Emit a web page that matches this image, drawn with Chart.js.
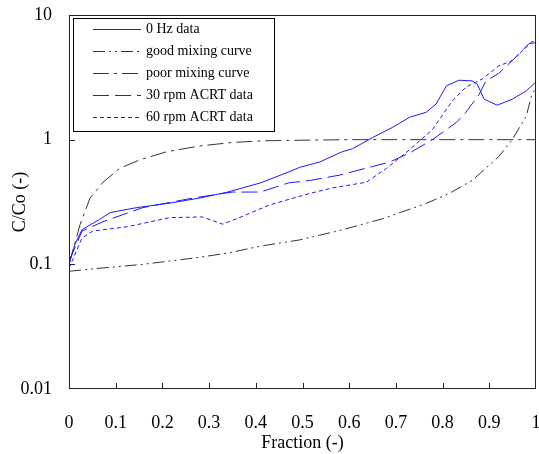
<!DOCTYPE html>
<html>
<head>
<meta charset="utf-8">
<script src="https://cdn.jsdelivr.net/npm/chart.js@4.4.0/dist/chart.umd.min.js"></script>
<style>
  body { margin: 0; background: #fff; }
  #wrap { width: 539px; height: 454px; }
</style>
</head>
<body>
<div id="wrap"><canvas id="chartCanvas" width="539" height="454"></canvas></div>
<script>
// values
const xTicks = [0, 0.1, 0.2, 0.3, 0.4, 0.5, 0.6, 0.7, 0.8, 0.9, 1];
const xTickLabels = ['0', '0.1', '0.2', '0.3', '0.4', '0.5', '0.6', '0.7', '0.8', '0.9', '1'];
const yTicks = [0.01, 0.1, 1, 10];
const yTickLabels = ['0.01', '0.1', '1', '10'];

const hz0X = [0, 0.013, 0.028, 0.066, 0.088, 0.145, 0.216, 0.28, 0.34, 0.41, 0.47, 0.494, 0.536, 0.585, 0.607, 0.65, 0.692, 0.729, 0.765, 0.786, 0.808, 0.835, 0.863, 0.874, 0.889, 0.917, 0.949, 0.979, 1.0];
const hz0Y = [0.10, 0.146, 0.19, 0.23, 0.26, 0.285, 0.31, 0.34, 0.38, 0.45, 0.55, 0.60, 0.66, 0.80, 0.845, 1.04, 1.25, 1.51, 1.66, 1.93, 2.7, 3.0, 2.96, 2.8, 2.11, 1.89, 2.11, 2.46, 2.9];

const goodX = [0, 0.066, 0.158, 0.265, 0.34, 0.41, 0.494, 0.585, 0.671, 0.765, 0.814, 0.863, 0.92, 0.949, 0.979, 0.991, 1.0];
const goodY = [0.088, 0.093, 0.10, 0.112, 0.123, 0.14, 0.157, 0.189, 0.232, 0.308, 0.37, 0.47, 0.73, 1.0, 1.54, 2.3, 2.6];

const poorX = [0, 0.024, 0.045, 0.073, 0.109, 0.152, 0.209, 0.28, 0.35, 0.42, 0.5, 0.6, 0.7, 0.8, 0.9, 1.0];
const poorY = [0.1, 0.21, 0.34, 0.456, 0.59, 0.69, 0.80, 0.89, 0.95, 0.98, 0.99, 1.0, 1.0, 1.0, 1.0, 1.0];

const rpm30X = [0, 0.028, 0.073, 0.158, 0.265, 0.35, 0.41, 0.47, 0.515, 0.58, 0.643, 0.686, 0.729, 0.778, 0.829, 0.85, 0.878, 0.893, 0.92, 0.949, 0.985, 1.0];
const rpm30Y = [0.106, 0.185, 0.22, 0.285, 0.34, 0.38, 0.38, 0.45, 0.47, 0.52, 0.60, 0.66, 0.78, 1.0, 1.37, 1.66, 2.3, 2.96, 3.4, 4.3, 5.9, 6.0];

const rpm60X = [0, 0.028, 0.051, 0.124, 0.216, 0.286, 0.329, 0.365, 0.43, 0.515, 0.564, 0.637, 0.68, 0.729, 0.778, 0.82, 0.85, 0.885, 0.92, 0.949, 0.991, 1.0];
const rpm60Y = [0.093, 0.163, 0.185, 0.2, 0.237, 0.24, 0.21, 0.237, 0.30, 0.37, 0.41, 0.456, 0.59, 0.83, 1.2, 2.03, 2.64, 3.07, 3.9, 4.3, 6.1, 6.2];

const pts = (xs, ys) => xs.map((x, k) => ({ x, y: ys[k] }));
const serif = '"Liberation Serif", "Times New Roman", serif';

function line(label, xs, ys, color, dash) {
  return {
    label,
    data: pts(xs, ys),
    borderColor: color,
    borderWidth: 1,
    borderDash: dash,
    pointRadius: 0,
    tension: 0,
    fill: false
  };
}

// frame, inner tick marks and the boxed legend inside the plot
const decorPlugin = {
  id: 'decor',
  afterDraw(chart) {
    const { ctx, chartArea: a, scales } = chart;
    const l = Math.round(a.left), t = Math.round(a.top);
    const r = Math.round(a.right) - 1, b = Math.round(a.bottom) - 1;
    ctx.save();
    ctx.setLineDash([]);

    // frame as filled 1px bars
    ctx.fillStyle = '#222';
    ctx.fillRect(l, t, r - l + 1, 1);
    ctx.fillRect(l, b, r - l + 1, 1);
    ctx.fillRect(l, t, 1, b - t + 1);
    ctx.fillRect(r, t, 1, b - t + 1);

    // inward tick marks
    xTicks.forEach(v => {
      const px = Math.round(scales.x.getPixelForValue(v));
      ctx.fillRect(Math.min(px, r), b - 5, 1, 5);
    });
    yTicks.forEach(v => {
      const py = Math.round(scales.y.getPixelForValue(v));
      ctx.fillRect(l, Math.min(Math.max(py, t), b), 6, 1);
    });

    // legend box
    const bx = 73, by = 18, bw = 201, bh = 113;
    ctx.fillStyle = '#fff';
    ctx.fillRect(bx, by, bw, bh);
    ctx.strokeStyle = '#000';
    ctx.lineWidth = 1;
    ctx.strokeRect(bx + 0.5, by + 0.5, bw, bh);

    ctx.font = '14px ' + serif;
    ctx.textBaseline = 'middle';
    chart.data.datasets.forEach((ds, k) => {
      const y = Math.round(29 + k * 22) + 0.5;
      ctx.strokeStyle = ds.borderColor;
      ctx.setLineDash(ds.borderDash || []);
      ctx.beginPath();
      ctx.moveTo(93, y);
      ctx.lineTo(141, y);
      ctx.stroke();
      ctx.fillStyle = '#000';
      ctx.fillText(ds.label, 146, y);
    });
    ctx.restore();
  }
};

const ctx = document.getElementById('chartCanvas').getContext('2d');
new Chart(ctx, {
  type: 'line',
  data: {
    datasets: [
      line('0 Hz data', hz0X, hz0Y, '#1a1aff', []),
      line('good mixing curve', goodX, goodY, '#333', [12, 4, 2, 4, 2, 4]),
      line('poor mixing curve', poorX, poorY, '#333', [16, 5, 3, 5]),
      line('30 rpm ACRT data', rpm30X, rpm30Y, '#1a1aff', [16, 6]),
      line('60 rpm ACRT data', rpm60X, rpm60Y, '#1a1aff', [4, 3])
    ]
  },
  options: {
    responsive: false,
    animation: false,
    devicePixelRatio: 1,
    layout: { autoPadding: false, padding: { left: 0, right: 3, top: 15, bottom: 0 } },
    plugins: { legend: { display: false }, tooltip: { enabled: false } },
    scales: {
      x: {
        type: 'linear',
        min: 0,
        max: 1,
        afterBuildTicks: s => { s.ticks = xTicks.map(v => ({ value: v })); },
        afterFit: s => { s.height = 65; s.paddingLeft = 0; s.paddingRight = 0; },
        grid: { display: false, drawTicks: false },
        border: { display: false },
        ticks: {
          padding: 23,
          color: '#000',
          font: { family: serif, size: 18 },
          maxRotation: 0,
          autoSkip: false,
          callback: (v, k) => xTickLabels[k]
        },
        title: {
          display: true,
          text: 'Fraction (-)',
          color: '#000',
          font: { family: serif, size: 18 },
          padding: { top: 0, bottom: 0 }
        }
      },
      y: {
        type: 'logarithmic',
        min: 0.01,
        max: 10,
        afterBuildTicks: s => { s.ticks = yTicks.map(v => ({ value: v })); },
        afterFit: s => { s.width = 69; s.paddingTop = 0; s.paddingBottom = 0; },
        grid: { display: false, drawTicks: false },
        border: { display: false },
        ticks: {
          padding: 17,
          color: '#000',
          font: { family: serif, size: 18 },
          autoSkip: false,
          callback: (v, k) => yTickLabels[k]
        },
        title: {
          display: true,
          text: 'C/Co (-)',
          color: '#000',
          font: { family: serif, size: 18 },
          padding: { top: 9, bottom: 0 }
        }
      }
    }
  },
  plugins: [decorPlugin]
});
</script>
</body>
</html>
